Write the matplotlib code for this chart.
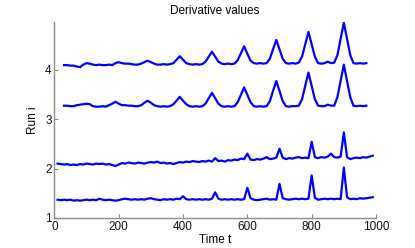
import matplotlib.pyplot as plt
import numpy as np

plt.rcParams['font.family'] = ['Liberation Sans', 'DejaVu Sans']

# time axis for the two wide-window runs and the two narrow-window runs
t_wide = np.arange(30, 971, 10)
t_narrow = np.arange(10, 991, 10)

run4 = [4.09, 4.09, 4.08, 4.08, 4.06, 4.05, 4.10, 4.13, 4.12, 4.10,
        4.09, 4.10, 4.09, 4.09, 4.10, 4.09, 4.13, 4.15, 4.13, 4.12,
        4.12, 4.11, 4.10, 4.10, 4.12, 4.15, 4.18, 4.15, 4.12, 4.10,
        4.10, 4.11, 4.10, 4.11, 4.13, 4.20, 4.27, 4.20, 4.13, 4.11,
        4.10, 4.11, 4.10, 4.11, 4.16, 4.26, 4.36, 4.26, 4.16, 4.12,
        4.11, 4.12, 4.11, 4.12, 4.19, 4.33, 4.47, 4.32, 4.18, 4.13,
        4.12, 4.13, 4.12, 4.13, 4.22, 4.41, 4.60, 4.41, 4.22, 4.13,
        4.12, 4.13, 4.12, 4.14, 4.26, 4.51, 4.76, 4.51, 4.26, 4.13,
        4.12, 4.13, 4.16, 4.13, 4.14, 4.29, 4.62, 4.95, 4.62, 4.29,
        4.13, 4.12, 4.13, 4.12, 4.13]

run3 = [3.27, 3.27, 3.26, 3.26, 3.28, 3.29, 3.30, 3.31, 3.30, 3.26,
        3.25, 3.25, 3.26, 3.25, 3.28, 3.31, 3.35, 3.31, 3.28, 3.28,
        3.27, 3.27, 3.26, 3.26, 3.28, 3.33, 3.37, 3.33, 3.28, 3.26,
        3.25, 3.26, 3.25, 3.26, 3.30, 3.37, 3.45, 3.37, 3.30, 3.26,
        3.25, 3.26, 3.25, 3.26, 3.31, 3.42, 3.53, 3.42, 3.31, 3.26,
        3.25, 3.26, 3.25, 3.26, 3.34, 3.49, 3.64, 3.49, 3.34, 3.26,
        3.25, 3.26, 3.25, 3.26, 3.36, 3.57, 3.77, 3.57, 3.36, 3.26,
        3.25, 3.26, 3.26, 3.27, 3.40, 3.67, 3.94, 3.67, 3.40, 3.27,
        3.26, 3.26, 3.29, 3.27, 3.27, 3.44, 3.77, 4.10, 3.77, 3.44,
        3.27, 3.26, 3.27, 3.26, 3.27]

run2 = [2.10, 2.09, 2.08, 2.09, 2.07, 2.08, 2.07, 2.09, 2.08, 2.10,
        2.09, 2.08, 2.10, 2.09, 2.10, 2.08, 2.09, 2.07, 2.05, 2.08,
        2.11, 2.10, 2.12, 2.11, 2.10, 2.12, 2.11, 2.10, 2.12, 2.13,
        2.12, 2.14, 2.11, 2.12, 2.10, 2.11, 2.09, 2.11, 2.13, 2.12,
        2.14, 2.13, 2.15, 2.14, 2.13, 2.15, 2.14, 2.16, 2.14, 2.21,
        2.15, 2.16, 2.14, 2.17, 2.16, 2.18, 2.17, 2.20, 2.19, 2.30,
        2.18, 2.17, 2.19, 2.18, 2.20, 2.23, 2.19, 2.20, 2.22, 2.40,
        2.22, 2.19, 2.21, 2.20, 2.22, 2.23, 2.21, 2.22, 2.21, 2.54,
        2.23, 2.21, 2.23, 2.22, 2.24, 2.30, 2.23, 2.22, 2.24, 2.73,
        2.23, 2.19, 2.21, 2.22, 2.21, 2.23, 2.22, 2.24, 2.26]

run1 = [1.37, 1.36, 1.37, 1.36, 1.37, 1.35, 1.36, 1.35, 1.36, 1.37,
        1.36, 1.37, 1.36, 1.39, 1.37, 1.36, 1.37, 1.36, 1.35, 1.36,
        1.38, 1.39, 1.38, 1.37, 1.38, 1.37, 1.38, 1.37, 1.39, 1.40,
        1.38, 1.37, 1.36, 1.38, 1.37, 1.38, 1.37, 1.39, 1.38, 1.44,
        1.38, 1.37, 1.38, 1.37, 1.38, 1.37, 1.38, 1.37, 1.39, 1.52,
        1.39, 1.37, 1.38, 1.37, 1.38, 1.37, 1.38, 1.37, 1.38, 1.61,
        1.40, 1.37, 1.36, 1.37, 1.38, 1.39, 1.37, 1.38, 1.37, 1.69,
        1.40, 1.38, 1.37, 1.38, 1.39, 1.38, 1.39, 1.38, 1.39, 1.86,
        1.41, 1.37, 1.38, 1.39, 1.38, 1.39, 1.38, 1.39, 1.38, 2.02,
        1.42, 1.38, 1.39, 1.38, 1.40, 1.39, 1.40, 1.41, 1.42]

y_ticks = [1, 2, 3, 4]
x_ticks = [0, 200, 400, 600, 800, 1000]

fig = plt.figure(figsize=(4.15, 2.48), dpi=100)
ax = fig.add_axes([0.131, 0.121, 0.775, 0.790])

blue = (0, 0, 1)
ax.plot(t_narrow, run1, color=blue, lw=1.6)
ax.plot(t_narrow, run2, color=blue, lw=1.6)
ax.plot(t_wide, run3, color=blue, lw=1.6)
ax.plot(t_wide, run4, color=blue, lw=1.6)

ax.set_xlim(0, 1000)
ax.set_ylim(1, 4.96)
ax.set_xticks(x_ticks)
ax.set_yticks(y_ticks)

for side in ['top', 'right']:
    ax.spines[side].set_visible(False)
for side in ['left', 'bottom']:
    ax.spines[side].set_color('#8c8c8c')
    ax.spines[side].set_linewidth(1.0)
ax.tick_params(direction='in', length=3, width=0.8, color='#8c8c8c',
               labelsize=8.5, labelcolor='#111111', pad=2)

ax.set_title('Derivative values', fontsize=8.5, pad=6)
ax.set_xlabel('Time t', fontsize=8.5, labelpad=1)
ax.set_ylabel('Run i', fontsize=8.5, labelpad=4)

fig.savefig('out.png', dpi=100)
